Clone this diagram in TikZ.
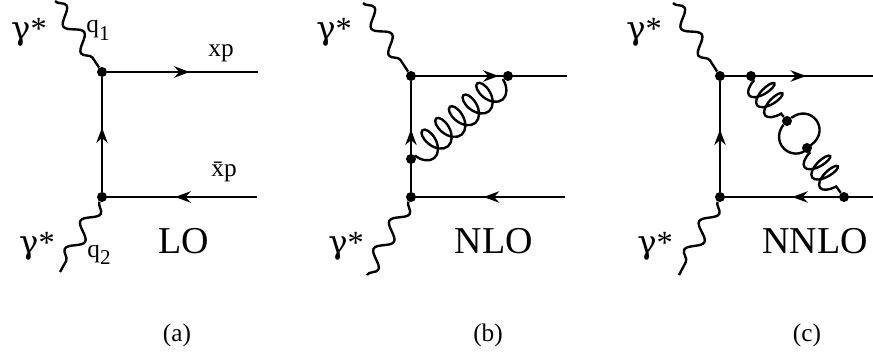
\documentclass[tikz,border=0pt]{standalone}
\usepackage{fontspec}
\setmainfont{Liberation Serif}
\newfontfamily\greekfont{DejaVu Serif}
\usetikzlibrary{arrows.meta}
\usetikzlibrary{decorations.pathmorphing,decorations.markings}
\tikzset{
  vertex/.style={circle, fill, inner sep=0pt, minimum size=0.25cm},
  fermion/.style={line width=1.9pt, postaction={decorate},
      decoration={markings, mark=at position 0.5 with
          {\arrow[xshift=5pt]{Stealth[length=11pt, width=8pt, inset=3.5pt]}}}},
  photon/.style={line width=1.7pt, decorate,
      decoration={snake, segment length=0.8cm, amplitude=0.18cm}},
  gluon/.style={line width=1.7pt, decorate,
      decoration={coil, segment length=0.45cm, amplitude=0.36cm, aspect=0.6, mirror}},
  shortgluon/.style={line width=1.7pt, decorate,
      decoration={coil, segment length=0.32cm, amplitude=0.34cm, aspect=0.4, mirror}},
  gam/.style={anchor=base, font=\fontsize{23}{25}\selectfont},
  mom/.style={anchor=base, font=\fontsize{18}{20}\selectfont},
  order/.style={anchor=base, font=\fontsize{27}{30}\selectfont},
  caption/.style={anchor=base, font=\fontsize{18}{20}\selectfont},
}
\newcommand{\gstar}{{\greekfont γ}*}
\newcommand{\qsub}[1]{q\raisebox{-5pt}{\fontsize{15}{16}\selectfont #1}}

\begin{document}
\begin{tikzpicture}[x=0.025cm, y=-0.025cm]
      \useasboundingbox (0,0) rectangle (873,354);

      % (a) LO
      \node [vertex] (a1) at (102,72) {};
      \node [vertex] (a2) at (102,197) {};
      \coordinate (a1r) at (258,72);
      \coordinate (a2r) at (257,197);
      \coordinate (a1p) at (55,1);
      \coordinate (a2p) at (60,272);
      \draw [fermion] (a2) -- (a1);
      \draw [fermion] (a1) -- (a1r);
      \draw [fermion] (a2r) -- (a2);
      \draw [photon] (a1p) -- (a1);
      \draw [photon] (a2) -- (a2p);
      \node [gam] (ga1) at (29,40) {\gstar};
      \node [gam] (ga2) at (37,253) {\gstar};
      \node [mom] (qa1) at (98,33) {\qsub{1}};
      \node [mom] (qa2) at (99,257) {\qsub{2}};
      \node [mom] (xa1) at (221,57) {xp};
      \node [mom] (xa2) at (224,177) {\={x}p};
      \node [order] (oa) at (184,253) {LO};
      \node [caption] (ca) at (177,341) {(a)};

      % (b) NLO
      \node [vertex] (b1) at (411,76) {};
      \node [vertex] (b2) at (411,197) {};
      \node [vertex] (b3) at (411,159) {};
      \node [vertex] (b4) at (508,76) {};
      \coordinate (b1r) at (567,76);
      \coordinate (b2r) at (565,197);
      \coordinate (b1p) at (363,3);
      \coordinate (b2p) at (367,275);
      \draw [fermion] (b2) -- (b1);
      \draw [fermion] (b1) -- (b1r);
      \draw [fermion] (b2r) -- (b2);
      \draw [photon] (b1p) -- (b1);
      \draw [photon] (b2) -- (b2p);
      \draw [gluon] (b3) -- (b4);
      \node [gam] (gb1) at (334,40) {\gstar};
      \node [gam] (gb2) at (346,253) {\gstar};
      \node [order] (ob) at (494,253) {NLO};
      \node [caption] (cb) at (488,341) {(b)};

      % (c) NNLO
      \node [vertex] (c1) at (720,76) {};
      \node [vertex] (c2) at (720,197) {};
      \node [vertex] (c3) at (751,76) {};
      \node [vertex] (c4) at (787,121) {};
      \node [vertex] (c5) at (807,148) {};
      \node [vertex] (c6) at (844,197) {};
      \coordinate (c1r) at (873,76);
      \coordinate (c2r) at (873,197);
      \coordinate (c1p) at (673,3);
      \coordinate (c2p) at (679,275);
      \draw [fermion] (c2) -- (c1);
      \draw [fermion] (c1) -- (c1r);
      \draw [fermion] (c2r) -- (c2);
      \draw [photon] (c1p) -- (c1);
      \draw [photon] (c2) -- (c2p);
      \draw [shortgluon] (c3) -- (c4);
      \draw [shortgluon] (c5) -- (c6);
      \draw [line width=1.7pt] (c4) to [bend left=90, looseness=1.9] (c5)
        to [bend left=90, looseness=1.9] (c4);
      \node [gam] (gc1) at (644,40) {\gstar};
      \node [gam] (gc2) at (655,253) {\gstar};
      \node [order] (oc) at (815,253) {NNLO};
      \node [caption] (cc) at (807,341) {(c)};

\end{tikzpicture}
\end{document}
